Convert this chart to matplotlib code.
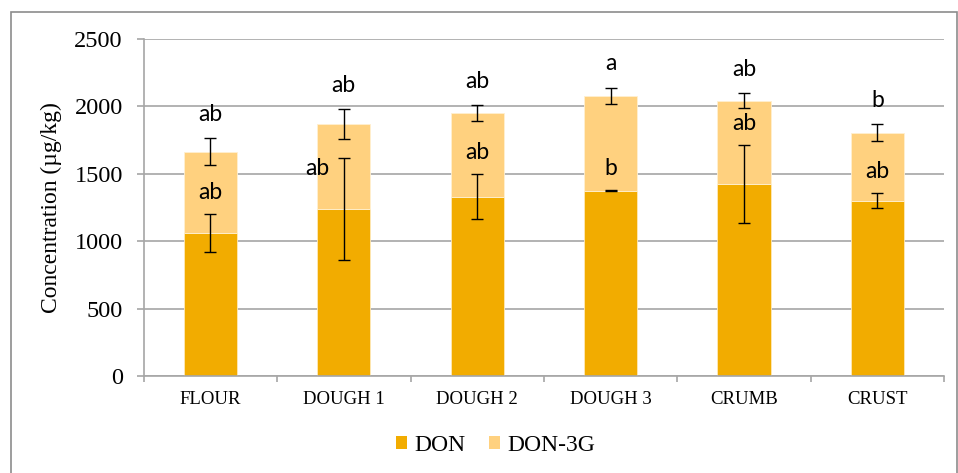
import matplotlib
matplotlib.use("Agg")
import matplotlib.pyplot as plt
from matplotlib.patches import Patch, Rectangle
import numpy as np

# Mycotoxin concentrations per processing stage (µg/kg)
stages = ["FLOUR", "DOUGH 1", "DOUGH 2", "DOUGH 3", "CRUMB", "CRUST"]
don = [1062, 1238, 1330, 1375, 1424, 1300]
don_err = [140, 377, 167, 4, 291, 55]
don3g = [603, 632, 619, 703, 617, 506]          # stacked on top of DON
total_err = [102, 112, 60, 62, 55, 63]
don_letters = ["ab", "ab", "ab", "b", "ab", "ab"]
total_letters = ["ab", "ab", "ab", "a", "ab", "b"]

col_don = "#F2AC00"
col_don3g = "#FFD17F"
grid_col = "#A6A6A6"

fig = plt.figure(figsize=(9.58, 4.73), dpi=100)
ax = fig.add_axes([0.150, 0.205, 0.8355, 0.7125])

x = np.arange(len(stages))
total = np.array(don) + np.array(don3g)
w = 0.4

ax.bar(x, don, width=w, color=col_don, edgecolor="#FFE9B8", linewidth=0.6, zorder=2)
ax.bar(x, don3g, width=w, bottom=don, color=col_don3g, edgecolor="#FFF0D0",
       linewidth=0.6, zorder=2)

ekw = dict(fmt="none", ecolor="black", elinewidth=1.0, capsize=4, capthick=1.0, zorder=3)
ax.errorbar(x, don, yerr=don_err, **ekw)
ax.errorbar(x, total, yerr=total_err, **ekw)

letter_font = dict(family=["Lato", "DejaVu Sans"], fontsize=16.5, color="black")
for i in range(len(stages)):
    top_don = don[i] + don_err[i]
    if i == 1:
        # keep the letter clear of the long error bar
        ax.annotate(don_letters[i], (x[i], top_don), xytext=(-19, -7),
                    textcoords="offset points", ha="center", va="center", **letter_font)
    else:
        ax.annotate(don_letters[i], (x[i], top_don), xytext=(0, 15.5),
                    textcoords="offset points", ha="center", va="center", **letter_font)
    ax.annotate(total_letters[i], (x[i], total[i] + total_err[i]), xytext=(0, 17),
                textcoords="offset points", ha="center", va="center", **letter_font)

ax.set_xlim(-0.5, len(stages) - 0.5)
ax.set_ylim(0, 2500)
ax.set_yticks(np.arange(0, 2501, 500))
ax.yaxis.grid(True, color=grid_col, linewidth=1.2, zorder=0)
ax.set_axisbelow(True)

serif = ["Liberation Serif", "DejaVu Serif"]
ax.set_xticks(x)
ax.set_xticklabels(stages, family=serif, fontsize=13.5)
ax.set_xticks(np.arange(-0.5, len(stages)), minor=True)
ax.tick_params(axis="x", which="major", length=0, pad=11)
ax.tick_params(axis="x", which="minor", length=4, width=1.2, color=grid_col, direction="out")
ax.tick_params(axis="y", length=5, width=1.2, color=grid_col, pad=10)
for lbl in ax.get_yticklabels():
    lbl.set_family(serif)
    lbl.set_fontsize(17.5)

ax.set_ylabel("Concentration (µg/kg)", family=serif, fontsize=17, labelpad=9)

for side in ("top", "right"):
    ax.spines[side].set_visible(False)
for side in ("left", "bottom"):
    ax.spines[side].set_color(grid_col)
    ax.spines[side].set_linewidth(1.2)

handles = [Patch(facecolor=col_don, edgecolor="none", label="DON"),
           Patch(facecolor=col_don3g, edgecolor="none", label="DON-3G")]
fig.legend(handles=handles, loc="center", bbox_to_anchor=(0.517, 1 - 445 / 473), ncol=2,
           frameon=False, prop=dict(family=serif, size=17), handlelength=0.47,
           handleheight=0.47, handletextpad=0.3, columnspacing=1.0)

# outer chart frame
fig.patches.append(Rectangle((11 / 958, -0.02), 946 / 958, 1 - 12 / 473 + 0.02,
                             transform=fig.transFigure, fill=False,
                             edgecolor="#8C8C8C", linewidth=1.2))

fig.savefig("out.png", dpi=100)
